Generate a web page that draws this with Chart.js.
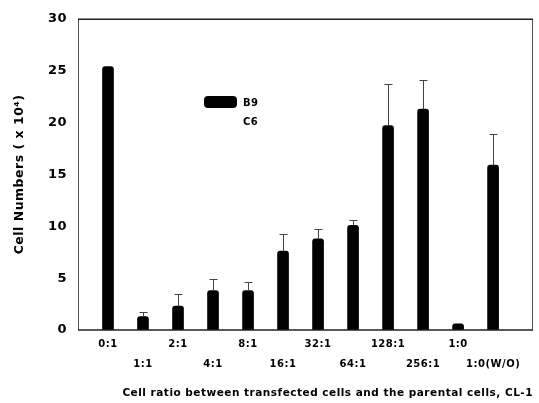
<!DOCTYPE html>
<html>
<head>
<meta charset="utf-8">
<script src="https://cdn.jsdelivr.net/npm/chart.js@4/dist/chart.umd.min.js"></script>
<style>
  html, body { margin: 0; padding: 0; background: #fff; }
  canvas { display: block; }
</style>
</head>
<body>
<canvas id="chart" width="539" height="403"></canvas>
<script>
// ratios of transfected : parental cells
const categories = ['0:1', '1:1', '2:1', '4:1', '8:1', '16:1', '32:1', '64:1', '128:1', '256:1', '1:0', '1:0(W/O)'];
const b9Values = [25.4, 1.3, 2.3, 3.8, 3.8, 7.6, 8.8, 10.1, 19.7, 21.3, 0.6, 15.9];
const b9Errors = [0, 0.4, 1.2, 1.1, 0.8, 1.7, 0.9, 0.5, 4.0, 2.8, 0, 3.0];
const c6Values = categories.map(() => null);
const yTicks = [0, 5, 10, 15, 20, 25, 30];

const FONT = '"DejaVu Sans", Verdana, sans-serif';

// the scanned figure uses a wide, heavy face; open it up a little
const spacing = {
    id: 'spacing',
    beforeUpdate(chart) { chart.ctx.letterSpacing = '0.5px'; },
    beforeDraw(chart) { chart.ctx.letterSpacing = '0.5px'; }
};

// error bars drawn on top of the bars
const errorBars = {
    id: 'errorBars',
    afterDatasetsDraw(chart) {
        const { ctx, scales: { x, y } } = chart;
        ctx.save();
        ctx.strokeStyle = '#444';
        ctx.lineWidth = 1;
        b9Values.forEach((v, i) => {
            const e = b9Errors[i];
            if (!e) return;
            const px = Math.round(x.getPixelForValue(i)) + 0.5;
            const yBar = y.getPixelForValue(v);
            const yTop = Math.round(y.getPixelForValue(v + e)) + 0.5;
            ctx.beginPath();
            ctx.moveTo(px, yBar);
            ctx.lineTo(px, yTop);
            ctx.moveTo(px - 4, yTop);
            ctx.lineTo(px + 4, yTop);
            ctx.stroke();
        });
        ctx.restore();
    }
};

// box round the plot area
const frame = {
    id: 'frame',
    afterDatasetsDraw(chart) {
        const { ctx, chartArea: a } = chart;
        ctx.save();
        ctx.strokeStyle = '#555';
        ctx.lineWidth = 1;
        ctx.beginPath();
        ctx.moveTo(a.left + 0.5, a.top);
        ctx.lineTo(a.left + 0.5, a.bottom);
        ctx.moveTo(a.right - 0.5, a.top);
        ctx.lineTo(a.right - 0.5, a.bottom);
        ctx.stroke();
        ctx.strokeStyle = '#222';
        ctx.lineWidth = 1.5;
        ctx.beginPath();
        ctx.moveTo(a.left, a.top + 0.5);
        ctx.lineTo(a.right, a.top + 0.5);
        ctx.moveTo(a.left, a.bottom);
        ctx.lineTo(a.right, a.bottom);
        ctx.stroke();
        ctx.restore();
    }
};

// legend sits inside the plot
const insideLegend = {
    id: 'insideLegend',
    afterDraw(chart) {
        const { ctx } = chart;
        ctx.save();
        ctx.font = 'bold 10px ' + FONT;
        ctx.textBaseline = 'middle';
        chart.data.datasets.forEach((ds, i) => {
            const top = 96 + i * 19;
            ctx.fillStyle = ds.backgroundColor;
            ctx.beginPath();
            ctx.roundRect(204, top, 33, 12, 4);
            ctx.fill();
            ctx.fillStyle = '#000';
            ctx.fillText(ds.label, 243, top + 7);
        });
        ctx.restore();
    }
};

new Chart(document.getElementById('chart'), {
    type: 'bar',
    data: {
        datasets: [{
            label: 'B9',
            data: b9Values.map((v, i) => ({ x: i, y: v })),
            backgroundColor: '#000000',
            barThickness: 11,
            borderRadius: { topLeft: 3, topRight: 3 },
            borderSkipped: 'bottom'
        }, {
            label: 'C6',
            data: c6Values.map((v, i) => ({ x: i, y: v })),
            backgroundColor: '#ffffff',
            barThickness: 11
        }]
    },
    options: {
        responsive: false,
        animation: false,
        devicePixelRatio: 1,
        grouped: false,
        layout: { padding: { top: 17, right: 6, left: 0, bottom: 0 } },
        plugins: {
            legend: { display: false },
            tooltip: { enabled: false }
        },
        scales: {
            x: {
                type: 'linear',
                offset: false,
                min: -0.857,
                max: 12.14,
                grid: { display: false, drawTicks: false },
                border: { display: false },
                afterBuildTicks: s => { s.ticks = categories.map((_, i) => ({ value: i })); },
                afterFit: s => { s.height = 73; },
                ticks: {
                    autoSkip: false,
                    maxRotation: 0,
                    padding: 4,
                    color: '#000',
                    font: { family: FONT, size: 10, weight: 'bold', lineHeight: 2 },
                    callback: v => (v % 2 === 0 ? [categories[v], ''] : ['', categories[v]])
                },
                title: {
                    display: true,
                    text: 'Cell ratio between transfected cells and the parental cells, CL-1',
                    align: 'end',
                    color: '#000',
                    font: { family: FONT, size: 10.5, weight: 'bold' },
                    padding: { top: 0, bottom: 3 }
                }
            },
            y: {
                min: 0,
                max: 30,
                grid: { display: false, drawTicks: false },
                border: { display: false },
                afterBuildTicks: s => { s.ticks = yTicks.map(v => ({ value: v })); },
                afterFit: s => { s.width = 78; },
                ticks: {
                    padding: 11,
                    color: '#000',
                    font: { family: FONT, size: 13, weight: 'bold' }
                },
                title: {
                    display: true,
                    text: 'Cell Numbers ( x 10\u2074)',
                    color: '#000',
                    font: { family: FONT, size: 12.5, weight: 'bold' },
                    padding: { top: 12, bottom: 0 }
                }
            }
        }
    },
    plugins: [spacing, errorBars, frame, insideLegend]
});
</script>
</body>
</html>
